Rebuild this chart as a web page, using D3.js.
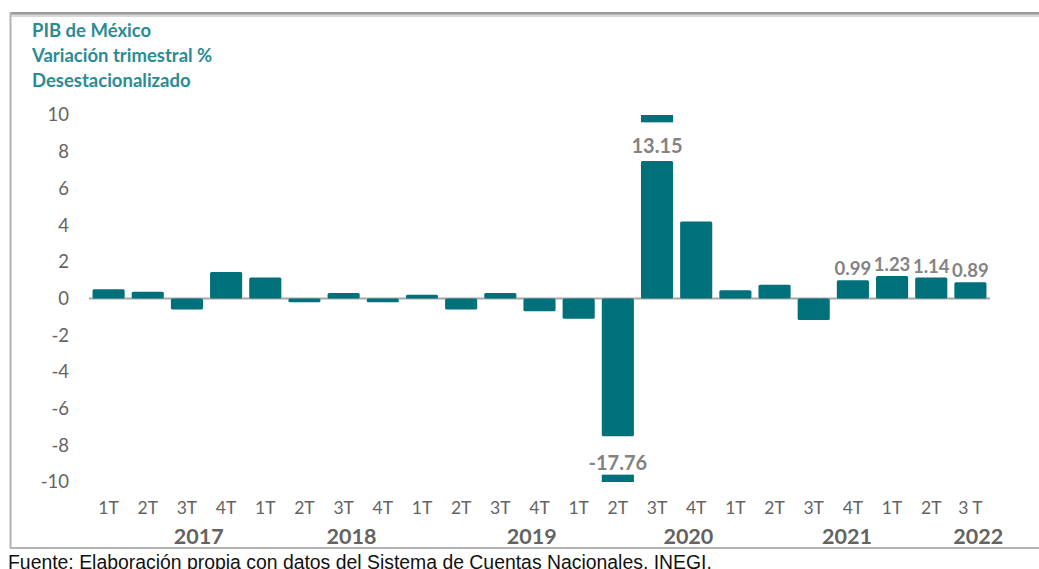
<!DOCTYPE html>
<html>
<head>
<meta charset="utf-8">
<script src="https://cdn.jsdelivr.net/npm/d3@7"></script>
<style>
  html, body { margin: 0; padding: 0; background: #fff; }
  svg { display: block; }
</style>
</head>
<body>
<div id="chart"></div>
<script>
'use strict';

// PIB de México, variación trimestral % (desestacionalizado)
const quarters = ['1T','2T','3T','4T','1T','2T','3T','4T','1T','2T','3T','4T',
                  '1T','2T','3T','4T','1T','2T','3T','4T','1T','2T','3 T'];
const values = [0.50, 0.37, -0.60, 1.44, 1.15, -0.20, 0.30, -0.20, 0.20, -0.60, 0.30, -0.70,
                -1.10, -17.76, 13.15, 4.20, 0.45, 0.75, -1.17, 0.99, 1.23, 1.14, 0.89];
const labelled = [13, 14, 19, 20, 21, 22];
const years = ['2017', '2018', '2019', '2020', '2021', '2022'];
const yearAt = [2.3, 6.2, 10.8, 14.8, 18.85, 22.2];   // quarter index the year label sits over
const yTicks = [10, 8, 6, 4, 2, 0, -2, -4, -6, -8, -10];
const titleLines = ['PIB de México', 'Variación trimestral %', 'Desestacionalizado'];
const source = 'Fuente: Elaboración propia con datos del Sistema de Cuentas Nacionales, INEGI.';

const W = 1039, H = 569;
const teal = '#00717a', titleTeal = '#2b8b95', grey = '#636363', labelGrey = '#838383';
const cap = 7.5;          // bars beyond this are drawn broken
const font = 'Lato, "Open Sans", sans-serif';

const svg = d3.select('#chart').append('svg')
    .attr('width', W).attr('height', H);

// frame
svg.append('rect').attr('x', 10).attr('y', 12).attr('width', W - 10).attr('height', 5).attr('fill', '#d9d9d9');
svg.append('rect').attr('x', 10).attr('y', 12).attr('width', W - 10).attr('height', 2.5).attr('fill', '#9a9a9a');
svg.append('line').attr('x1', 10.5).attr('x2', 10.5).attr('y1', 12).attr('y2', 548)
    .attr('stroke', '#b3b3b3').attr('stroke-width', 2);
svg.append('line').attr('x1', 10).attr('x2', W).attr('y1', 548).attr('y2', 548)
    .attr('stroke', '#b3b3b3').attr('stroke-width', 2);

// title
svg.append('g').selectAll('text').data(titleLines).enter().append('text')
    .attr('x', 32).attr('y', (d, i) => 37 + i * 25)
    .attr('fill', titleTeal).attr('font-family', font).attr('font-weight', 700)
    .attr('font-size', 18.5).text(d => d);

const x = d3.scaleBand()
    .domain(d3.range(values.length))
    .range([89, 990])
    .paddingInner(0.18).paddingOuter(0.09);

const y = d3.scaleLinear().domain([-10, 10]).range([482, 115]);

// y axis labels
const yAxis = svg.append('g')
    .attr('transform', 'translate(77,0)')
    .call(d3.axisLeft(y).tickValues(yTicks).tickFormat(d => String(d)).tickSize(0).tickPadding(8));
yAxis.select('.domain').remove();
yAxis.selectAll('text').attr('fill', grey).attr('font-family', font).attr('font-size', 18.5);

// zero line
svg.append('line').attr('x1', 89).attr('x2', 990).attr('y1', y(0)).attr('y2', y(0))
    .attr('stroke', '#a6a6a6').attr('stroke-width', 2);

// bars
svg.append('g').selectAll('rect').data(values).enter().append('rect')
    .attr('x', (d, i) => x(i))
    .attr('width', x.bandwidth())
    .attr('y', d => y(Math.min(Math.max(d, 0), cap)))
    .attr('height', d => Math.abs(y(Math.max(Math.min(d, cap), -cap)) - y(0)))
    .attr('rx', 1.5)
    .attr('fill', teal);

// broken-bar stubs at the axis ends
const broken = values.map((d, i) => ({ d: d, i: i })).filter(o => Math.abs(o.d) > cap);
svg.append('g').selectAll('rect').data(broken).enter().append('rect')
    .attr('x', o => x(o.i))
    .attr('width', x.bandwidth())
    .attr('y', o => o.d > 0 ? y(10) : y(-9.6))
    .attr('height', y(9.6) - y(10))
    .attr('fill', teal);

// data labels
svg.append('g').selectAll('text').data(labelled).enter().append('text')
    .attr('x', i => x(i) + x.bandwidth() / 2)
    .attr('y', i => {
        const v = values[i];
        if (v > cap) return y(cap) - 8;
        if (v < -cap) return y(-cap) + 34;
        return y(v) - 5;
    })
    .attr('text-anchor', 'middle')
    .attr('fill', labelGrey).attr('font-family', font).attr('font-weight', 700)
    .attr('font-size', i => Math.abs(values[i]) > cap ? 20 : 18.5)
    .text(i => values[i].toFixed(2));

// quarter labels
svg.append('g').selectAll('text').data(quarters).enter().append('text')
    .attr('x', (d, i) => x(i) + x.bandwidth() / 2)
    .attr('y', 514)
    .attr('text-anchor', 'middle')
    .attr('fill', grey).attr('font-family', font).attr('font-size', 17.5)
    .text(d => d);

// year labels
const step = x.step();
svg.append('g').selectAll('text').data(years).enter().append('text')
    .attr('x', (d, i) => x(0) + x.bandwidth() / 2 + yearAt[i] * step)
    .attr('y', 544)
    .attr('text-anchor', 'middle')
    .attr('fill', grey).attr('font-family', font).attr('font-weight', 700).attr('font-size', 21.5)
    .text(d => d);

// source
svg.append('text')
    .attr('x', 8).attr('y', 569)
    .attr('fill', '#111').attr('font-family', '"Liberation Sans", Arial, sans-serif')
    .attr('font-size', 19.4)
    .text(source);
</script>
</body>
</html>
